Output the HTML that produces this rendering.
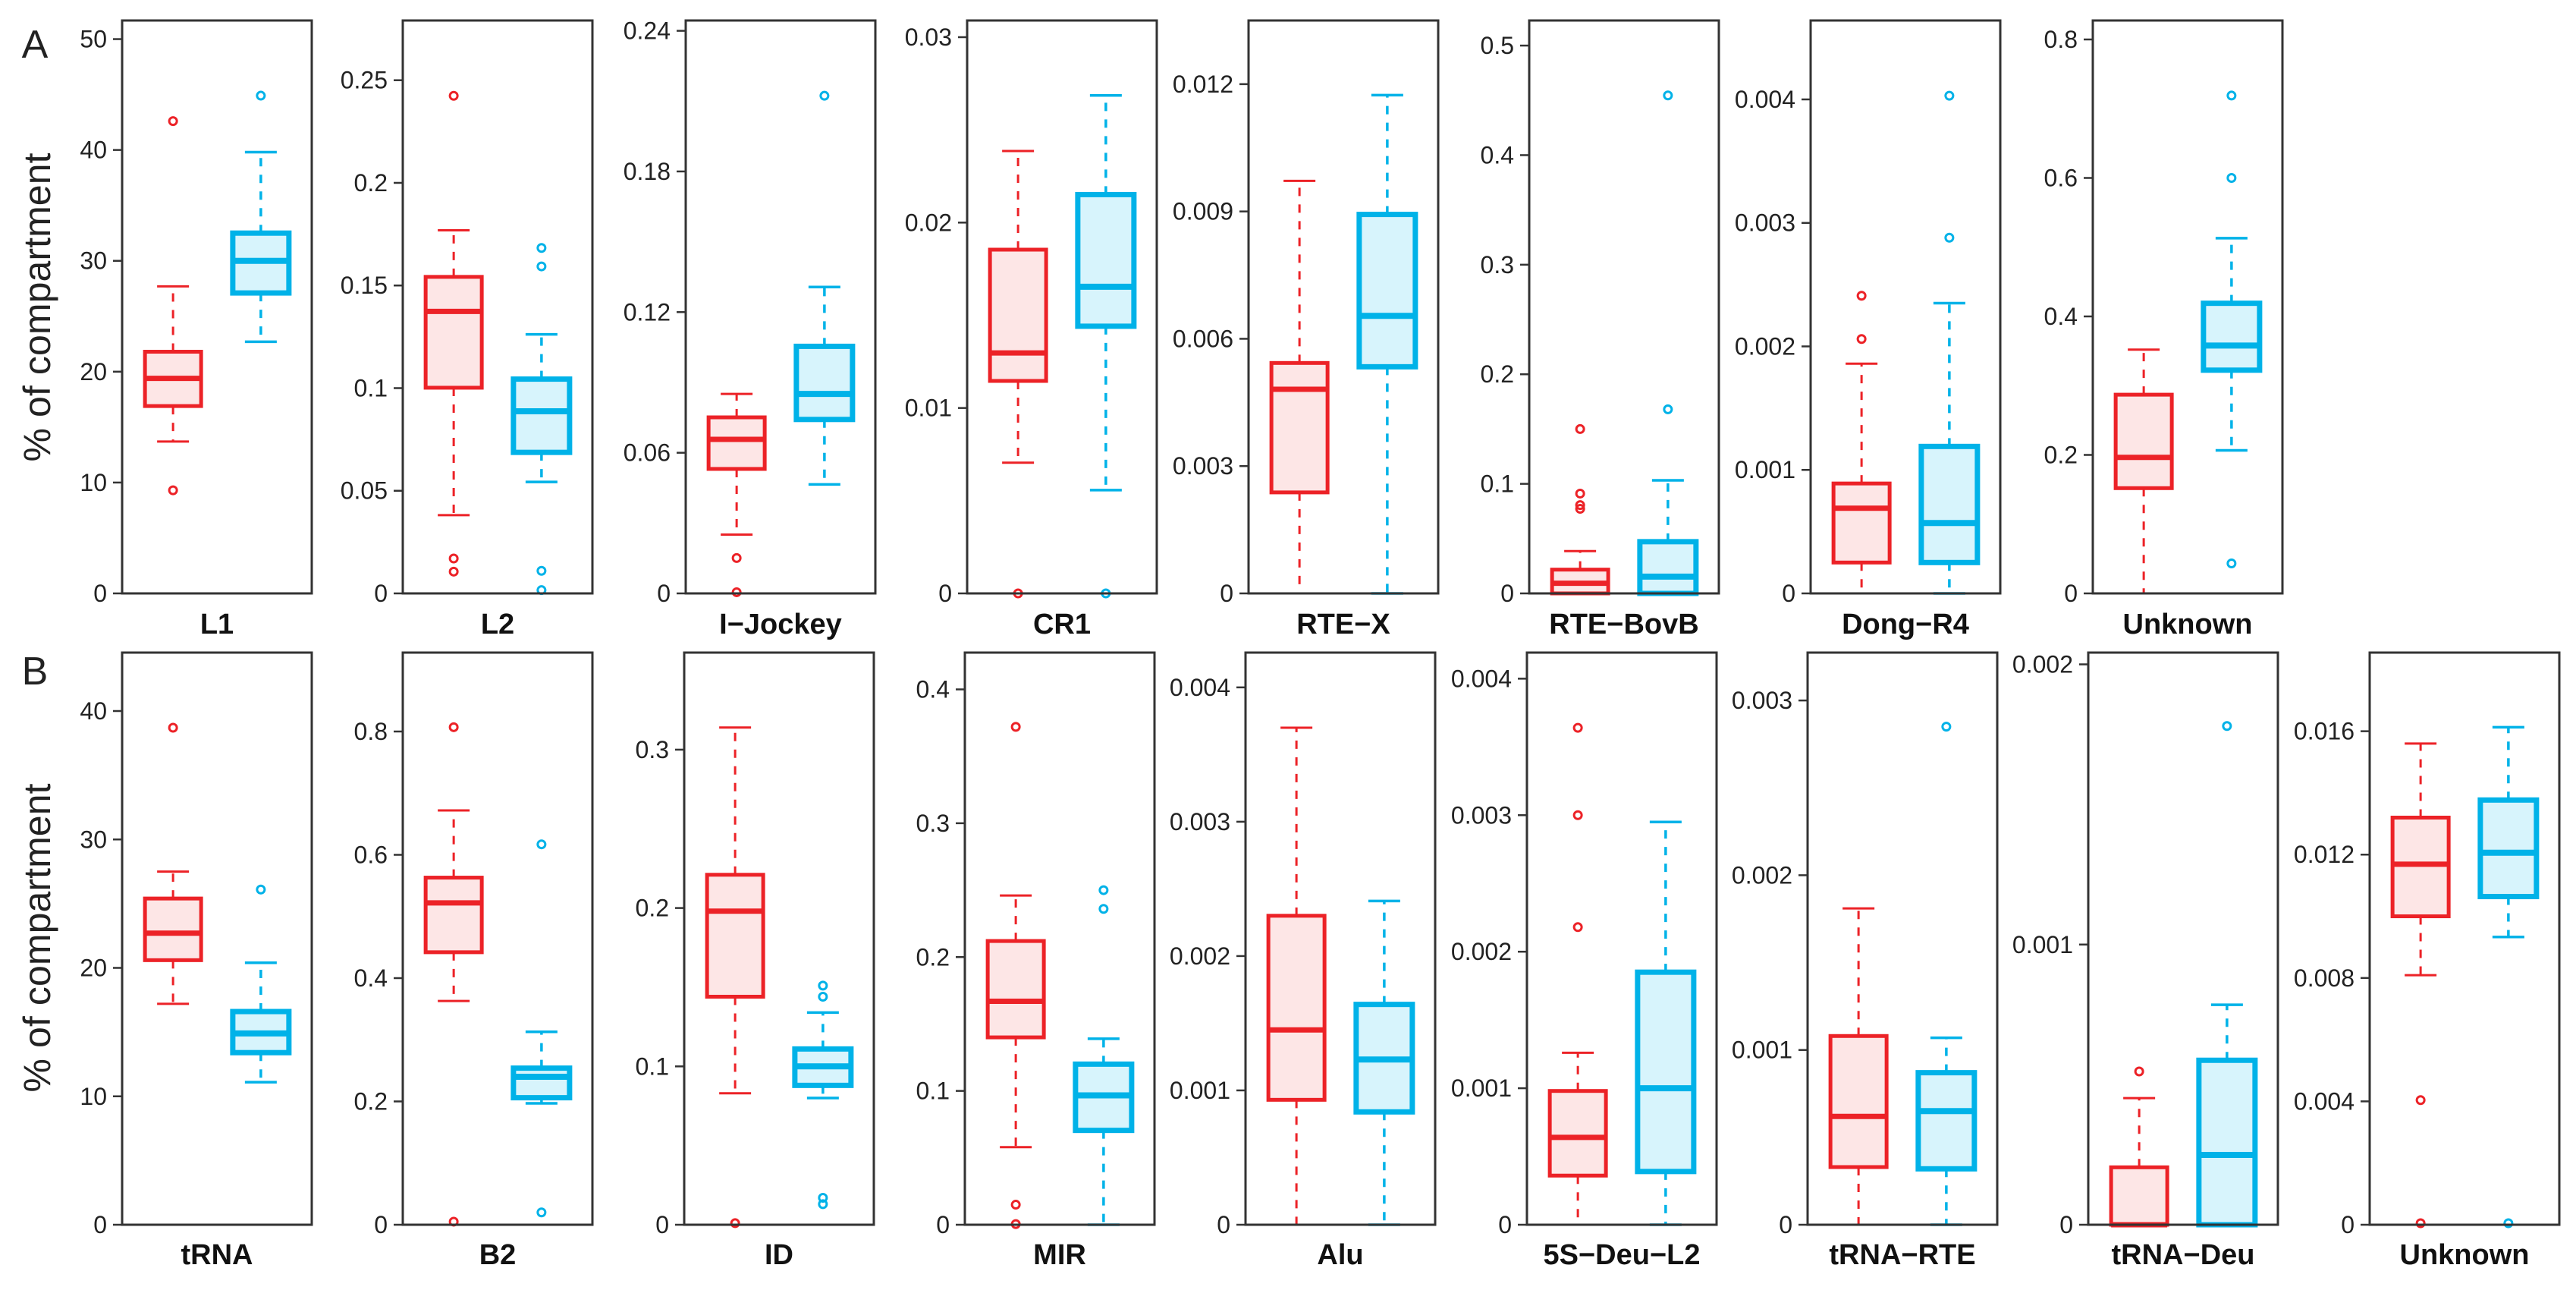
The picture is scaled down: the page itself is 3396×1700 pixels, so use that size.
<!DOCTYPE html>
<html><head><meta charset="utf-8"><style>
html,body{margin:0;padding:0;background:#fff;}
svg{display:block;font-family:"Liberation Sans",Arial,sans-serif;}
</style></head><body>
<svg id="chart" width="3396" height="1700" viewBox="0 0 3396 1700" xmlns="http://www.w3.org/2000/svg">
<rect width="3396" height="1700" fill="#fff"/>
<text x="46" y="76" font-size="52" fill="#222" text-anchor="middle">A</text>
<text x="46" y="902" font-size="52" fill="#222" text-anchor="middle">B</text>
<text transform="translate(66,405) rotate(-90)" font-size="50" fill="#222" text-anchor="middle" textLength="407">% of compartment</text>
<text transform="translate(66,1236) rotate(-90)" font-size="50" fill="#222" text-anchor="middle" textLength="407">% of compartment</text>
<g id="plots"></g>
</svg>
<script>
// ---- Row A data ----
const catsA = ["L1","L2","I\u2212Jockey","CR1","RTE\u2212X","RTE\u2212BovB","Dong\u2212R4","Unknown"];
const ymaxA = [51.68,0.2791,0.2444,0.0309,0.0135,0.5229,0.004639,0.8274];
const ticksA = [[0,10,20,30,40,50],[0,0.05,0.1,0.15,0.2,0.25],[0,0.06,0.12,0.18,0.24],[0,0.01,0.02,0.03],[0,0.003,0.006,0.009,0.012],[0,0.1,0.2,0.3,0.4,0.5],[0,0.001,0.002,0.003,0.004],[0,0.2,0.4,0.6,0.8]];
const tickLabelsA = [["0","10","20","30","40","50"],["0","0.05","0.1","0.15","0.2","0.25"],["0","0.06","0.12","0.18","0.24"],["0","0.01","0.02","0.03"],["0","0.003","0.006","0.009","0.012"],["0","0.1","0.2","0.3","0.4","0.5"],["0","0.001","0.002","0.003","0.004"],["0","0.2","0.4","0.6","0.8"]];
const redLoA  = [13.7,0.0381,0.0251,0.00705,0,0,0,0];
const redQ1A  = [16.9,0.1002,0.0531,0.01146,0.00238,0,0.00025,0.152];
const redMedA = [19.4,0.1374,0.0657,0.01297,0.00481,0.0093,0.00069,0.1965];
const redQ3A  = [21.8,0.1542,0.0751,0.01854,0.00543,0.0217,0.00089,0.287];
const redHiA  = [27.7,0.1769,0.0851,0.02386,0.00972,0.0386,0.00186,0.352];
const redOutA = [[42.6,9.3],[0.2424,0.017,0.0106],[0.0151,0.0005],[0],[],[0.15,0.0911,0.0806,0.0772],[0.00241,0.00206],[]];
const bluLoA  = [22.7,0.0543,0.0465,0.00557,0,0,0,0.2066];
const bluQ1A  = [27.1,0.0687,0.0742,0.01441,0.00534,0,0.00025,0.3224];
const bluMedA = [30.0,0.0887,0.0851,0.01654,0.00654,0.0153,0.00057,0.358];
const bluQ3A  = [32.5,0.1044,0.1054,0.02151,0.00893,0.0472,0.00119,0.419];
const bluHiA  = [39.8,0.1262,0.1307,0.02686,0.01174,0.1032,0.00235,0.513];
const bluOutA = [[44.9],[0.1683,0.1593,0.011,0.0016],[0.2123],[0],[],[0.4545,0.168],[0.00403,0.00288],[0.719,0.6,0.0433]];
// ---- Row B data ----
const catsB = ["tRNA","B2","ID","MIR","Alu","5S\u2212Deu\u2212L2","tRNA\u2212RTE","tRNA\u2212Deu","Unknown"];
const ymaxB = [44.55,0.928,0.3613,0.4275,0.004259,0.004191,0.003274,0.002042,0.01855];
const ticksB = [[0,10,20,30,40],[0,0.2,0.4,0.6,0.8],[0,0.1,0.2,0.3],[0,0.1,0.2,0.3,0.4],[0,0.001,0.002,0.003,0.004],[0,0.001,0.002,0.003,0.004],[0,0.001,0.002,0.003],[0,0.001,0.002],[0,0.004,0.008,0.012,0.016]];
const tickLabelsB = [["0","10","20","30","40"],["0","0.2","0.4","0.6","0.8"],["0","0.1","0.2","0.3"],["0","0.1","0.2","0.3","0.4"],["0","0.001","0.002","0.003","0.004"],["0","0.001","0.002","0.003","0.004"],["0","0.001","0.002","0.003"],["0","0.001","0.002"],["0","0.004","0.008","0.012","0.016"]];
const redLoB  = [17.2,0.363,0.083,0.058,0,0,0,0,0.00809];
const redQ1B  = [20.6,0.442,0.144,0.140,0.00093,0.00036,0.00033,0,0.0100];
const redMedB = [22.7,0.522,0.198,0.167,0.00145,0.00064,0.00062,0,0.01169];
const redQ3B  = [25.4,0.563,0.221,0.212,0.0023,0.00098,0.00108,0.000205,0.0132];
const redHiB  = [27.5,0.672,0.314,0.246,0.0037,0.00126,0.00181,0.000452,0.0156];
const redOutB = [[38.7],[0.807,0.005],[0.001],[0.372,0.015,0.0005],[],[0.00364,0.0030,0.00218],[],[0.000547],[0.00404,0.00005]];
const bluLoB  = [11.1,0.197,0.080,0,0,0,0,0,0.00933];
const bluQ1B  = [13.4,0.206,0.088,0.0705,0.00084,0.00039,0.00032,0,0.01064];
const bluMedB = [14.9,0.240,0.100,0.0967,0.00123,0.0010,0.00065,0.000249,0.01206];
const bluQ3B  = [16.6,0.254,0.111,0.120,0.00164,0.00185,0.00087,0.000587,0.01377];
const bluHiB  = [20.4,0.313,0.134,0.139,0.00241,0.00295,0.00107,0.000785,0.01613];
const bluOutB = [[26.1],[0.617,0.02],[0.151,0.144,0.017,0.013],[0.25,0.236],[],[],[0.00285],[0.00178],[0.00005]];

const NS = "http://www.w3.org/2000/svg";
const root = document.getElementById("plots");
function mk(tag, attrs, parent){ const e=document.createElementNS(NS,tag); for(const k in attrs) e.setAttribute(k,attrs[k]); (parent||root).appendChild(e); return e; }

const W = 250;
const leftsA = [161,531,904,1275,1646,2016,2387,2759];
const leftsB = [161,531,902,1272,1642,2013,2383,2753,3124];
const RED = {stroke:"#ec2227", fill:"#fde6e6", bw:5, mw:7, ww:3, slug:"red"};
const BLU = {stroke:"#00b2e8", fill:"#d7f4fc", bw:7, mw:8, ww:3.5, slug:"blue"};

function drawBox(g, yS, cx, st, lo, q1, md, q3, hi, outs, cat){
  const hw = 37, cw = 21;
  const wl = mk("line",{x1:cx,x2:cx,y1:yS(q3),y2:yS(hi),stroke:st.stroke,"stroke-width":st.ww,"stroke-dasharray":"11 11"},g);
  
  
  const wl2 = mk("line",{x1:cx,x2:cx,y1:yS(q1),y2:yS(lo),stroke:st.stroke,"stroke-width":st.ww,"stroke-dasharray":"11 11"},g);
  
  
  [hi,lo].forEach(v=>{
    const c = mk("line",{x1:cx-cw,x2:cx+cw,y1:yS(v),y2:yS(v),stroke:st.stroke,"stroke-width":st.ww},g);
    
    
  });
  const b = mk("rect",{x:cx-hw,y:yS(q3),width:2*hw,height:Math.max(0,yS(q1)-yS(q3)),fill:st.fill,stroke:st.stroke,"stroke-width":st.bw},g);
  
  
  const m = mk("line",{x1:cx-hw,x2:cx+hw,y1:yS(md),y2:yS(md),stroke:st.stroke,"stroke-width":st.mw},g);
  
  
  outs.forEach(v=>{
    const o = mk("circle",{cx:cx,cy:yS(v),r:5,fill:"none",stroke:st.stroke,"stroke-width":3},g);
    
    
  });
}

function drawRow(rowId, cats, lefts, top, bottom, labY, ymax, ticks, tlabels, R, B){
  for(let i=0;i<cats.length;i++){
    const x0 = lefts[i];
    const slug = cats[i].toLowerCase().replace(/[^a-z0-9]+/g,'-');
    const g = mk("g",{});
    
    
    const yS = v => bottom - (v/ymax[i])*(bottom-top);
    const xS = k => x0 + W*((k-0.42)/2.16);
    ticks[i].forEach((t,j)=>{
      const y = yS(t);
      const tl = mk("line",{x1:x0-12,x2:x0,y1:y,y2:y,stroke:"#333","stroke-width":2.5},g);
      
      
      const tx = mk("text",{x:x0-20,y:y+11,"font-size":32,fill:"#222","text-anchor":"end"},g);
      tx.textContent = tlabels[i][j];
      
      
    });
    drawBox(g,yS,xS(1),RED,R.lo[i],R.q1[i],R.md[i],R.q3[i],R.hi[i],R.out[i],slug);
    drawBox(g,yS,xS(2),BLU,B.lo[i],B.q1[i],B.md[i],B.q3[i],B.hi[i],B.out[i],slug);
    const fr = mk("rect",{x:x0,y:top,width:W,height:bottom-top,fill:"none",stroke:"#333","stroke-width":3},g);
    
    
    const lb = mk("text",{x:x0+W/2,y:labY,"font-size":38,"font-weight":"bold",fill:"#111","text-anchor":"middle"},g);
    lb.textContent = cats[i];
    
    
  }
}
drawRow("a",catsA,leftsA,27,782,835,ymaxA,ticksA,tickLabelsA,
  {lo:redLoA,q1:redQ1A,md:redMedA,q3:redQ3A,hi:redHiA,out:redOutA},
  {lo:bluLoA,q1:bluQ1A,md:bluMedA,q3:bluQ3A,hi:bluHiA,out:bluOutA});
drawRow("b",catsB,leftsB,860,1614,1666,ymaxB,ticksB,tickLabelsB,
  {lo:redLoB,q1:redQ1B,md:redMedB,q3:redQ3B,hi:redHiB,out:redOutB},
  {lo:bluLoB,q1:bluQ1B,md:bluMedB,q3:bluQ3B,hi:bluHiB,out:bluOutB});
</script>
</body></html>
